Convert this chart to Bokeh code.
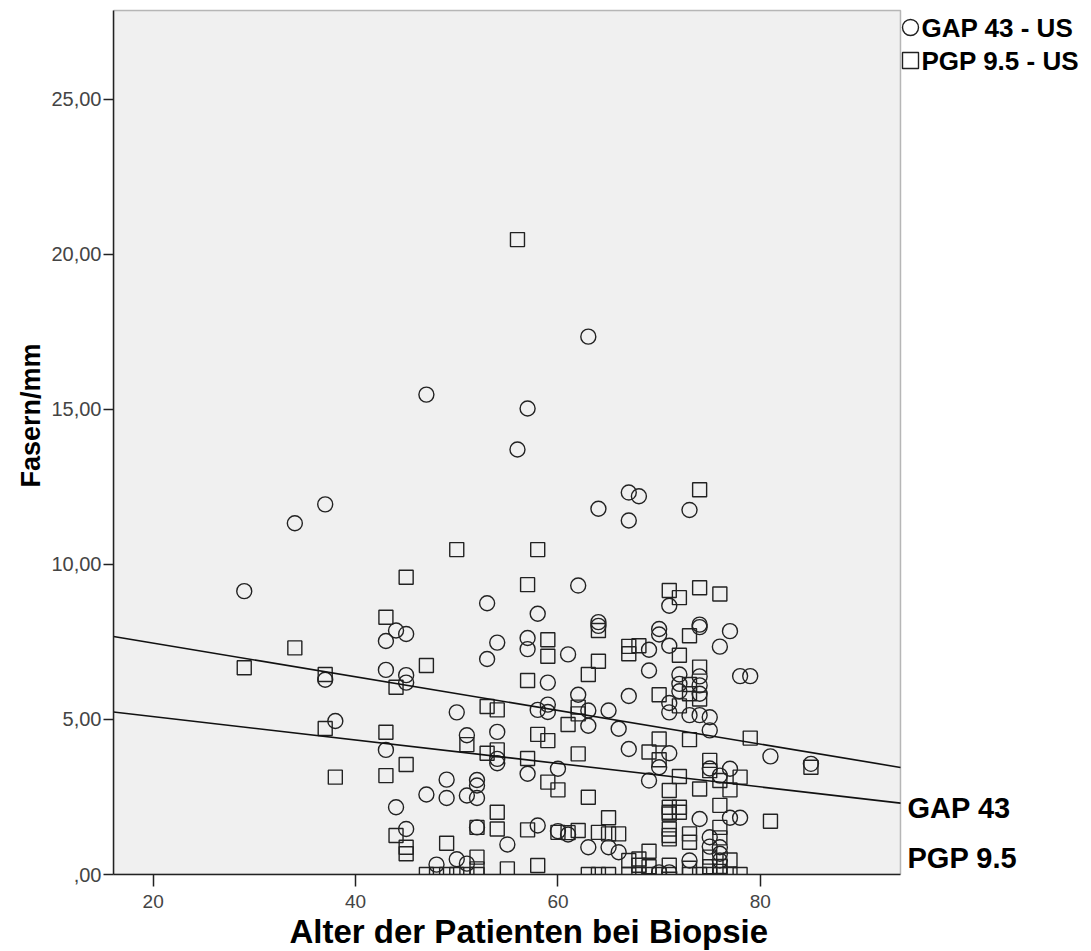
from bokeh.plotting import figure
from bokeh.models import (Range1d, FixedTicker, CustomJSTickFormatter,
                          Label, BoxAnnotation, Title)
from bokeh.embed import file_html
from bokeh.resources import INLINE

# GAP 43 fibre density (Fasern/mm) by patient age
gap_age = [63, 47, 57, 56, 67, 68, 67, 73, 64, 37, 34, 29, 62, 53, 71, 58, 64, 64,
           70, 70, 74, 74, 77, 44, 45, 43, 54, 57, 57, 61, 69, 71, 76, 53, 43, 45,
           45, 37, 59, 69, 72, 72, 72, 74, 74, 74, 78, 79, 62, 67, 71, 71, 73, 74,
           75, 65, 63, 50, 58, 59, 59, 38, 43, 51, 54, 54, 54, 57, 60, 63, 66, 67,
           71, 75, 70, 69, 75, 76, 77, 81, 85, 49, 47, 49, 52, 52, 51, 52, 44, 45,
           52, 58, 55, 50, 48, 51, 60, 61, 74, 77, 78, 63, 65, 66, 73, 75, 75, 76,
           76, 76, 70, 71]
gap_val = [17.35, 15.48, 15.03, 13.71, 12.32, 12.20, 11.42, 11.76, 11.80, 11.94,
           11.33, 9.14, 9.32, 8.75, 8.67, 8.41, 8.14, 8.02, 7.92, 7.74, 8.06, 7.98,
           7.85, 7.87, 7.76, 7.53, 7.48, 7.63, 7.27, 7.10, 7.25, 7.38, 7.35, 6.95,
           6.60, 6.43, 6.19, 6.28, 6.19, 6.58, 6.45, 6.15, 5.91, 6.39, 6.10, 5.83,
           6.40, 6.40, 5.80, 5.76, 5.53, 5.23, 5.14, 5.14, 5.07, 5.29, 5.29, 5.23,
           5.31, 5.48, 5.24, 4.95, 4.02, 4.49, 4.60, 3.73, 3.59, 3.25, 3.41, 4.80,
           4.70, 4.05, 3.91, 4.65, 3.46, 3.03, 3.42, 3.19, 3.41, 3.81, 3.57, 3.06,
           2.58, 2.47, 3.05, 2.87, 2.55, 2.47, 2.17, 1.47, 1.52, 1.58, 0.97, 0.49,
           0.32, 0.35, 1.40, 1.29, 1.79, 1.83, 1.83, 0.88, 0.88, 0.72, 0.45, 1.20,
           0.90, 0.88, 0.67, 0.45, 0.07, 0.07]

# PGP 9.5 fibre density (Fasern/mm) by patient age
pgp_age = [56, 74, 50, 58, 45, 57, 71, 72, 74, 76, 43, 64, 73, 59, 59, 34, 29, 37,
           47, 67, 67, 68, 72, 64, 63, 73, 73, 74, 74, 44, 57, 70, 72, 53, 54, 62,
           62, 37, 43, 51, 53, 54, 57, 58, 59, 61, 62, 73, 70, 69, 70, 79, 38, 43,
           45, 59, 60, 72, 74, 75, 75, 76, 77, 78, 85, 54, 63, 71, 71, 71, 71, 71,
           71, 71, 72, 72, 76, 76, 76, 81, 65, 44, 45, 45, 52, 54, 57, 49, 60, 61,
           62, 64, 65, 66, 73, 73, 69, 75, 77, 67, 68, 52, 52, 55, 58, 76, 76,
           47, 48, 49, 50, 51, 52, 63, 64, 65, 67, 68, 69, 70, 71, 73, 74, 75, 76,
           77, 78, 68, 69, 71, 73, 75]
pgp_val = [20.48, 12.41, 10.48, 10.48, 9.59, 9.35, 9.16, 8.93, 9.25, 9.05, 8.30,
           7.87, 7.70, 7.57, 7.04, 7.31, 6.67, 6.45, 6.74, 7.36, 7.12, 7.38, 7.07,
           6.88, 6.45, 6.13, 5.83, 6.69, 5.66, 6.04, 6.26, 5.80, 5.44, 5.42, 5.31,
           5.40, 5.18, 4.71, 4.59, 4.19, 3.91, 4.02, 3.74, 4.52, 4.32, 4.84, 3.89,
           4.35, 4.37, 3.95, 3.70, 4.40, 3.14, 3.19, 3.55, 2.98, 2.73, 3.16, 2.76,
           3.68, 3.35, 3.03, 2.73, 3.14, 3.46, 2.01, 2.49, 2.71, 2.17, 2.01, 1.95,
           1.47, 1.26, 1.15, 2.17, 2.01, 2.23, 1.52, 1.18, 1.72, 1.83, 1.26, 0.88,
           0.67, 1.52, 1.47, 1.44, 1.01, 1.36, 1.35, 1.42, 1.36, 1.31, 1.31, 1.31,
           1.04, 0.75, 0.56, 0.47, 0.45, 0.50, 0.56, 0.18, 0.18, 0.29, 0.26, 0.10,
           0.0, 0.0, 0.0, 0.0, 0.0, 0.0, 0.0, 0.0, 0.0, 0.0, 0.0, 0.0, 0.0, 0.0,
           0.0, 0.0, 0.0, 0.0, 0.0, 0.0, 0.30, 0.25, 0.30, 0.20, 0.25]

# linear fit lines: intercept, slope
fit_names = ["GAP 43", "PGP 9.5"]
fit_intercepts = [8.55, 5.85]
fit_slopes = [-0.0543, -0.0378]

legend_labels = ["GAP 43 - US", "PGP 9.5 - US"]
legend_markers = ["circle", "square"]

x_ticks = [20, 40, 60, 80]
y_ticks = [0, 5, 10, 15, 20, 25]

# extent of the shaded plotting area
X0, X1 = 16.08, 93.85
Y0, Y1 = 0.0, 27.87

# the frame also spans the legend / label strip on the right and the top margin
W, H = 1091, 951
LEFT, BOTTOM = 113, 77
AREA_W, AREA_H = 787, 864
frame_w, frame_h = W - LEFT, H - BOTTOM
XR = X0 + (X1 - X0) * frame_w / AREA_W
YR = Y0 + (Y1 - Y0) * frame_h / AREA_H
PX_X = AREA_W / (X1 - X0)   # pixels per year
PX_Y = AREA_H / (Y1 - Y0)   # pixels per fibre/mm


def sx_to_data(sx):
    return X0 + (sx - LEFT) / PX_X


def sy_to_data(sy):
    return Y0 + (frame_h - sy) / PX_Y


FONT = "Liberation Sans"
INK = "#222222"

p = figure(width=W, height=H, x_range=Range1d(X0, XR), y_range=Range1d(Y0, YR),
           output_backend="svg", toolbar_location=None,
           min_border_left=LEFT, min_border_right=0, min_border_top=0,
           min_border_bottom=BOTTOM)

p.background_fill_color = "white"
p.border_fill_color = "white"
p.outline_line_color = None
p.xgrid.visible = False
p.ygrid.visible = False

p.add_layout(BoxAnnotation(left=X0, right=X1, bottom=Y0, top=Y1,
                           fill_color="#f0f0f0", fill_alpha=1.0,
                           line_color=INK, line_width=1.5, level="underlay"))

for ax in (p.xaxis[0], p.yaxis[0]):
    ax.axis_line_color = INK
    ax.axis_line_width = 1.5
    ax.major_tick_line_color = INK
    ax.major_tick_line_width = 1.5
    ax.major_tick_in = 0
    ax.minor_tick_line_color = None
    ax.major_label_text_font = FONT
    ax.major_label_text_color = "#444444"

p.xaxis.bounds = (X0, X1)
p.xaxis.ticker = FixedTicker(ticks=x_ticks)
p.xaxis.major_tick_out = 12
p.xaxis.major_label_text_font_size = "19px"
p.xaxis.major_label_standoff = 8

p.yaxis.bounds = (Y0, Y1)
p.yaxis.ticker = FixedTicker(ticks=y_ticks)
p.yaxis.formatter = CustomJSTickFormatter(
    code="return tick == 0 ? ',00' : tick.toFixed(2).replace('.', ',');")
p.yaxis.major_tick_out = 10
p.yaxis.major_label_text_font_size = "20px"
p.yaxis.major_label_standoff = 2

# axis titles
p.add_layout(Title(text="Fasern/mm", align="left", offset=387,
                   text_font=FONT, text_font_size="27px", text_font_style="bold",
                   text_color="black", standoff=6), "left")
p.add_layout(Title(text="Alter der Patienten bei Biopsie", align="left", offset=176,
                   text_font=FONT, text_font_size="33px", text_font_style="bold",
                   text_color="black", standoff=0), "below")

p.scatter(gap_age, gap_val, marker="circle", size=15, fill_color=None,
          line_color=INK, line_width=1.4)
p.scatter(pgp_age, pgp_val, marker="square", size=14, fill_color=None,
          line_color=INK, line_width=1.4)

for a, b in zip(fit_intercepts, fit_slopes):
    p.line([X0, X1], [a + b * X0, a + b * X1], line_color="#111111", line_width=1.6)

# fit line labels to the right of the shaded area
label_sy = [807, 857]
for name, sy in zip(fit_names, label_sy):
    p.add_layout(Label(x=X1, y=sy_to_data(sy), x_offset=7, text=name, text_font=FONT,
                       text_font_size="29px", text_font_style="bold",
                       text_color="black", text_baseline="middle"))

# legend in the top right corner
legend_sy = [27, 60]
for lab, mk, sy in zip(legend_labels, legend_markers, legend_sy):
    p.scatter([sx_to_data(910)], [sy_to_data(sy)], marker=mk, size=16,
              fill_color=None, line_color=INK, line_width=1.4)
    p.add_layout(Label(x=sx_to_data(921), y=sy_to_data(sy), text=lab, text_font=FONT,
                       text_font_size="26px", text_font_style="bold",
                       text_color="black", text_baseline="middle"))

open("out.html", "w").write(file_html(p, INLINE))
